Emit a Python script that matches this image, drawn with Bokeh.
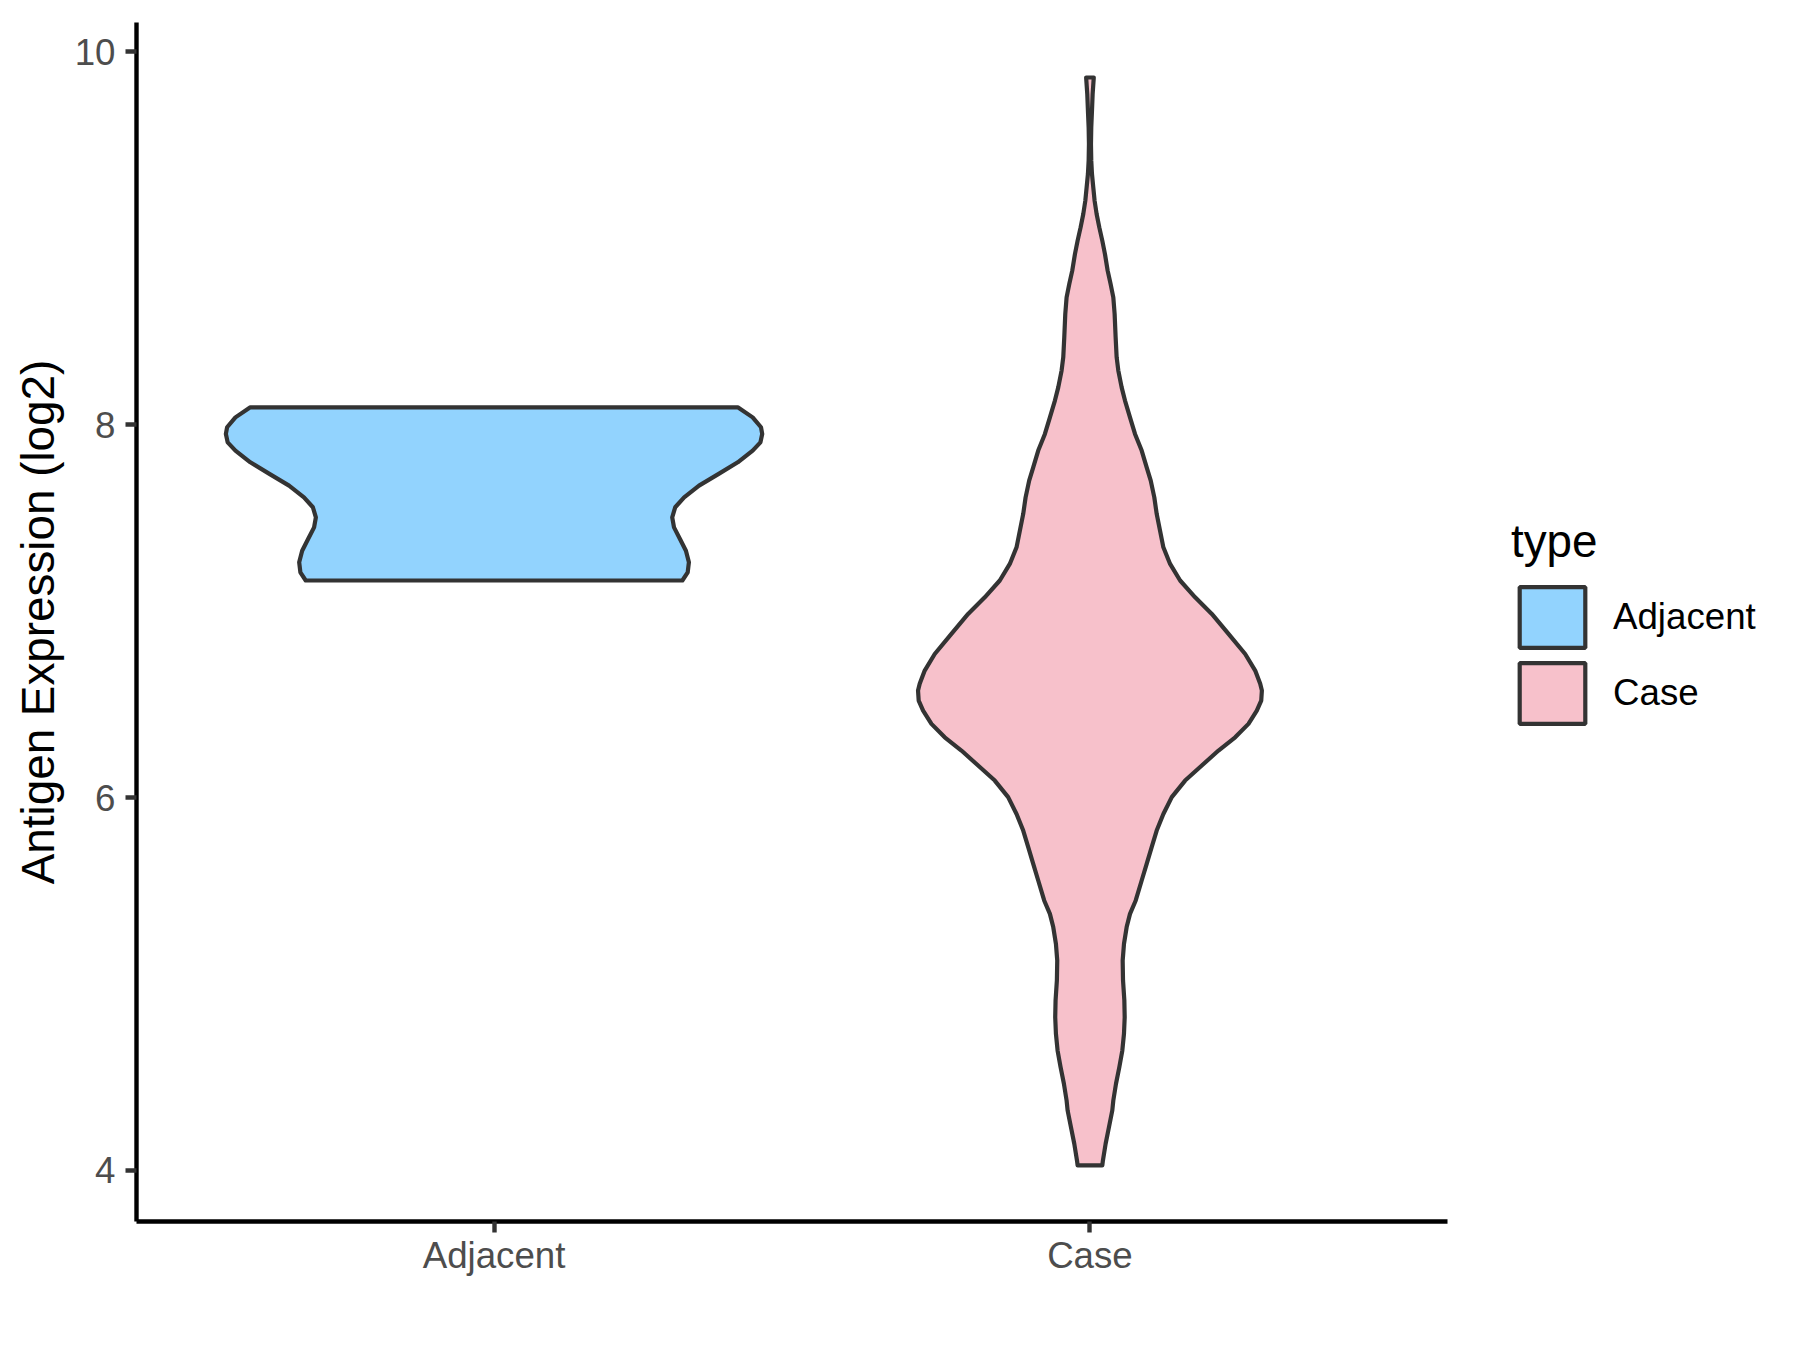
from bokeh.plotting import figure
from bokeh.layouts import row
from bokeh.models import Range1d, FixedTicker, Legend, LegendItem
from bokeh.embed import file_html
from bokeh.resources import INLINE

# ---- data ----
categories = ["Adjacent", "Case"]
category_pos = [1, 2]
fill_colors = ["#92D3FE", "#F7C1CB"]
y_ticks = [4, 6, 8, 10]

# violin outlines: expression level (top to bottom) and half-width of the violin
adjacent_y = [8.093, 8.039, 7.986, 7.950, 7.905, 7.861, 7.798, 7.736, 7.673,
              7.610, 7.557, 7.503, 7.449, 7.387, 7.324, 7.262, 7.208, 7.164]
adjacent_halfwidth = [0.409, 0.434, 0.448, 0.450, 0.447, 0.434, 0.409, 0.377,
                      0.344, 0.319, 0.304, 0.299, 0.302, 0.312, 0.322, 0.327,
                      0.325, 0.316]

case_y = [9.862, 9.773, 9.684, 9.594, 9.505, 9.416, 9.344, 9.272, 9.201, 9.130,
          9.058, 8.987, 8.915, 8.826, 8.754, 8.683, 8.594, 8.468, 8.361, 8.290,
          8.200, 8.129, 8.039, 7.950, 7.861, 7.771, 7.700, 7.610, 7.521, 7.432,
          7.342, 7.253, 7.164, 7.074, 6.985, 6.878, 6.770, 6.681, 6.610, 6.574,
          6.520, 6.466, 6.395, 6.323, 6.252, 6.172, 6.091, 6.002, 5.912, 5.823,
          5.734, 5.644, 5.555, 5.448, 5.376, 5.305, 5.215, 5.126, 5.019, 4.912,
          4.822, 4.733, 4.643, 4.554, 4.465, 4.375, 4.322, 4.232, 4.143, 4.054,
          4.027]
case_halfwidth = [0.0064, 0.0045, 0.0034, 0.0022, 0.0017, 0.0022, 0.0034, 0.0056,
                  0.0078, 0.0112, 0.0157, 0.0207, 0.0252, 0.0297, 0.0347, 0.0392,
                  0.0414, 0.0431, 0.0448, 0.0476, 0.0532, 0.0588, 0.0672, 0.0756,
                  0.0868, 0.0952, 0.102, 0.108, 0.112, 0.1176, 0.1232, 0.1345,
                  0.1513, 0.1765, 0.2045, 0.2325, 0.2605, 0.2773, 0.2857, 0.2885,
                  0.2874, 0.280, 0.266, 0.2437, 0.2157, 0.1877, 0.1597, 0.1373,
                  0.1232, 0.112, 0.1036, 0.0952, 0.0868, 0.0768, 0.0672, 0.0616,
                  0.0571, 0.0549, 0.0555, 0.0577, 0.0583, 0.0571, 0.0543, 0.0493,
                  0.0437, 0.0392, 0.0375, 0.0319, 0.0263, 0.0218, 0.0207]

FONT = "Liberation Sans"

FRAME_L, FRAME_T, FRAME_R, FRAME_B = 136, 22, 1447, 1221
H = 1330
W_MAIN = FRAME_R + 10
W_LEG = 1780 - W_MAIN

p = figure(width=W_MAIN, height=H, output_backend="svg", toolbar_location=None,
           x_range=Range1d(0.4, 2.6), y_range=Range1d(3.726, 10.157),
           min_border_left=FRAME_L, min_border_right=W_MAIN - FRAME_R,
           min_border_top=FRAME_T, min_border_bottom=H - FRAME_B)
p.background_fill_color = "white"
p.border_fill_color = "white"
p.outline_line_color = None
p.xgrid.visible = False
p.ygrid.visible = False


def outline(center, ys, hws):
    xs = [center - h for h in hws] + [center + h for h in reversed(hws)]
    yy = list(ys) + list(reversed(ys))
    return xs, yy


shapes = []
for pos, ys, hws, col in zip(category_pos, [adjacent_y, case_y],
                             [adjacent_halfwidth, case_halfwidth], fill_colors):
    xs, yy = outline(pos, ys, hws)
    p.patch(xs, yy, fill_color=col, line_color="#333333", line_width=4.2,
            line_join="round")
    shapes.append((xs, yy, col))

# axes
for ax in (p.xaxis[0], p.yaxis[0]):
    ax.axis_line_color = "black"
    ax.axis_line_width = 4.4
    ax.major_tick_line_color = "#333333"
    ax.major_tick_line_width = 4.4
    ax.major_tick_out = 11
    ax.major_tick_in = 0
    ax.minor_tick_line_color = None
    ax.major_label_text_font = FONT
    ax.major_label_text_font_size = "36.7px"
    ax.major_label_text_color = "#4D4D4D"
    ax.axis_label_text_font = FONT
    ax.axis_label_text_font_style = "normal"
    ax.axis_label_text_font_size = "45.8px"
    ax.axis_label_text_color = "black"

p.xaxis.ticker = FixedTicker(ticks=category_pos)
p.xaxis.major_label_overrides = {pos: c for pos, c in zip(category_pos, categories)}
p.xaxis.major_label_standoff = 2
p.yaxis.ticker = FixedTicker(ticks=y_ticks)
p.yaxis.major_label_standoff = 10
p.yaxis.axis_label = "Antigen Expression (log2)"
p.yaxis.axis_label_standoff = 8

# ---- legend panel (a bare figure to the right of the plot) ----
pl = figure(width=W_LEG, height=H, output_backend="svg", toolbar_location=None,
            x_range=Range1d(10, 11), y_range=Range1d(0, 1),
            x_axis_location=None, y_axis_location=None,
            min_border_left=0, min_border_right=0, min_border_top=0,
            min_border_bottom=0)
pl.outline_line_color = None
pl.xgrid.visible = False
pl.ygrid.visible = False
pl.background_fill_color = "white"
pl.border_fill_color = "white"

leg_renderers = []
for xs, yy, col in shapes:
    leg_renderers.append(pl.patch(xs, yy, fill_color=col, line_color="#333333",
                                  line_width=4.2))

legend = Legend(items=[LegendItem(label=c, renderers=[r])
                       for c, r in zip(categories, leg_renderers)],
                location=(1511 - W_MAIN, 490), title="type",
                title_text_font=FONT, title_text_font_size="45.8px",
                title_text_font_style="normal", title_text_color="black",
                title_standoff=11,
                label_text_font=FONT, label_text_font_size="36.7px",
                label_text_color="black", label_standoff=20,
                glyph_width=82, glyph_height=76, spacing=0,
                padding=0, margin=0, border_line_color=None,
                background_fill_alpha=0)
pl.add_layout(legend)

layout = row(p, pl, spacing=0)
open("out.html", "w").write(file_html(layout, INLINE))
